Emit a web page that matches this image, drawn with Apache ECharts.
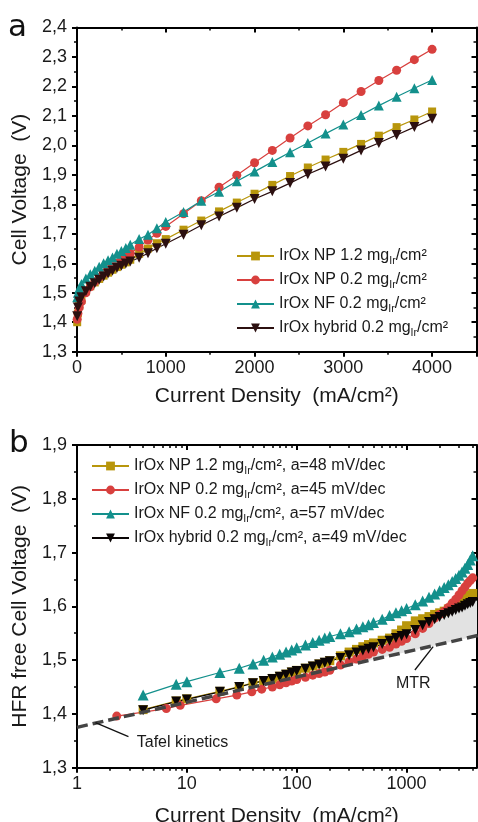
<!DOCTYPE html>
<html>
<head>
<meta charset="utf-8">
<script src="https://cdn.jsdelivr.net/npm/echarts@6/dist/echarts.min.js"></script>
<style>
  html, body { margin: 0; padding: 0; background: #ffffff; }
  #chart { width: 478px; height: 822px; }
</style>
</head>
<body>
<div id="chart"></div>
<script>
// ---- samples ----
const sampleNames = ['IrOx NP 1.2', 'IrOx NP 0.2', 'IrOx NF 0.2', 'IrOx hybrid 0.2'];
const tafelSlopes = [48, 45, 57, 49];

// ---- panel a: polarization curves (mA/cm², V) ----
const polCurrent = [2, 10, 25, 50, 100, 150, 200, 250, 300, 350, 400, 450, 500, 550, 600,
  700, 800, 900, 1000, 1200, 1400, 1600, 1800, 2000, 2200, 2400, 2600, 2800, 3000,
  3200, 3400, 3600, 3800, 4000];
const polNP12 = [1.400, 1.430, 1.455, 1.475, 1.505, 1.522, 1.535, 1.547, 1.558, 1.568, 1.578,
  1.587, 1.595, 1.603, 1.612, 1.632, 1.650, 1.668, 1.682, 1.714, 1.745, 1.776, 1.806, 1.836,
  1.866, 1.896, 1.925, 1.952, 1.978, 2.005, 2.033, 2.062, 2.088, 2.115];
const polNP02 = [1.410, 1.430, 1.450, 1.470, 1.500, 1.520, 1.537, 1.553, 1.566, 1.578, 1.589,
  1.600, 1.611, 1.622, 1.633, 1.655, 1.679, 1.702, 1.725, 1.768, 1.812, 1.858, 1.899, 1.941,
  1.983, 2.025, 2.066, 2.104, 2.145, 2.183, 2.220, 2.255, 2.291, 2.326];
const polNF02 = [1.485, 1.500, 1.515, 1.530, 1.548, 1.563, 1.575, 1.588, 1.600, 1.610, 1.620,
  1.632, 1.642, 1.652, 1.663, 1.682, 1.697, 1.719, 1.740, 1.774, 1.812, 1.843, 1.878, 1.911,
  1.944, 1.977, 2.008, 2.040, 2.071, 2.103, 2.135, 2.165, 2.194, 2.222];
const polHybrid = [1.420, 1.450, 1.470, 1.485, 1.505, 1.520, 1.532, 1.544, 1.555, 1.565, 1.575,
  1.584, 1.592, 1.599, 1.606, 1.619, 1.634, 1.651, 1.666, 1.697, 1.729, 1.759, 1.788, 1.818,
  1.844, 1.872, 1.902, 1.928, 1.955, 1.983, 2.008, 2.035, 2.062, 2.090];

// ---- panel b: HFR-free cell voltage (mA/cm², V) ----
const hfrCurrent = [4, 8, 10, 20, 30, 40, 50, 60, 70, 80, 90, 100, 120, 140, 160, 180, 200,
  250, 300, 350, 400, 450, 500, 600, 700, 800, 900, 1000, 1200, 1400, 1600, 1800, 2000,
  2200, 2400, 2600, 2800, 3000, 3200, 3400, 3600, 3800, 4000];
const hfrCurrentNP02 = [2.3, 6.5, 8.7, 18.5, 28.5, 39, 48, 60, 70, 80, 90, 100, 120, 140, 160,
  180, 200, 250, 300, 350, 400, 450, 500, 600, 700, 800, 900, 1000, 1200, 1400, 1600, 1800,
  2000, 2200, 2400, 2600, 2800, 3000, 3200, 3400, 3600, 3800, 4000];
const hfrNP12 = [1.408, 1.424, 1.428, 1.442, 1.451, 1.458, 1.462, 1.466, 1.470, 1.474, 1.478,
  1.481, 1.485, 1.489, 1.493, 1.496, 1.499, 1.508, 1.515, 1.520, 1.525, 1.529, 1.532, 1.537,
  1.541, 1.549, 1.556, 1.564, 1.573, 1.577, 1.581, 1.585, 1.588, 1.591, 1.595, 1.599, 1.603,
  1.607, 1.611, 1.615, 1.618, 1.621, 1.624];
const hfrNP02 = [1.396, 1.410, 1.416, 1.428, 1.435, 1.441, 1.446, 1.450, 1.454, 1.458, 1.461,
  1.464, 1.468, 1.472, 1.475, 1.478, 1.481, 1.491, 1.497, 1.502, 1.507, 1.511, 1.515, 1.520,
  1.524, 1.530, 1.535, 1.540, 1.549, 1.559, 1.568, 1.578, 1.585, 1.591, 1.598, 1.606, 1.613,
  1.621, 1.629, 1.636, 1.643, 1.648, 1.653];
const hfrNF02 = [1.435, 1.455, 1.460, 1.477, 1.485, 1.493, 1.500, 1.506, 1.511, 1.515, 1.519,
  1.523, 1.528, 1.533, 1.537, 1.541, 1.544, 1.549, 1.553, 1.558, 1.562, 1.566, 1.570, 1.576,
  1.583, 1.588, 1.592, 1.596, 1.603, 1.610, 1.617, 1.623, 1.629, 1.635, 1.640, 1.646, 1.652,
  1.658, 1.664, 1.671, 1.678, 1.686, 1.694];
const hfrHybrid = [1.407, 1.423, 1.427, 1.441, 1.450, 1.457, 1.461, 1.465, 1.469, 1.473, 1.477,
  1.480, 1.484, 1.488, 1.492, 1.495, 1.498, 1.504, 1.509, 1.514, 1.518, 1.521, 1.524, 1.530,
  1.536, 1.541, 1.545, 1.548, 1.556, 1.565, 1.571, 1.576, 1.580, 1.584, 1.587, 1.590, 1.593,
  1.596, 1.598, 1.601, 1.604, 1.606, 1.608];

// Tafel kinetics extrapolation (end points of the dashed line)
const tafelCurrent = [1, 4500];
const tafelVoltage = [1.375, 1.546];

// mass-transport region: hybrid curve above this current, closed along the Tafel line
const mtrStartCurrent = 250;
const mtrEdgeCurrent = [4500, 4500, 250];
const mtrEdgeVoltage = [1.612, 1.546, 1.487];

// annotation anchors in data units (panel b)
const tafelNote = { text: 'Tafel kinetics', label: [3.5, 1.3465], from: [2.94, 1.3577], to: [1.47, 1.3837] };
const mtrNote = { text: 'MTR', label: [1150, 1.457], from: [1190, 1.4817], to: [1746, 1.525] };

// axis tick values
const polTicks = [0, 1000, 2000, 3000, 4000];
const logMajorTicks = [1, 10, 100, 1000];
const logMinorTicks = [2, 3, 4, 5, 6, 7, 8, 9, 20, 30, 40, 50, 60, 70, 80, 90,
  200, 300, 400, 500, 600, 700, 800, 900, 2000, 3000, 4000];

// ---- styling ----
const FONT = 'Liberation Sans, Arial, sans-serif';
const colors = ['#b8960c', '#d8403e', '#13908c', '#2c1010'];
const colorsB = ['#b8960c', '#d8403e', '#13908c', '#0a0505'];
const symbols = ['rect', 'circle', 'triangle', 'triangle'];
const rotations = [0, 0, 0, 180];
const sizesA = [8, 9, 10, 10];
const sizesB = [9, 9, 11, 10];

const zip = (xs, ys) => xs.map((x, i) => [x, ys[i]]);
const fmtComma = v => (Math.round(v * 10) / 10).toFixed(1).replace('.', ',');

const topNames = sampleNames.map(s => s + ' mgIr/cm²');
const bottomNames = sampleNames.map((s, i) => s + ' mgIr/cm², a=' + tafelSlopes[i] + ' mV/dec');
const legendFormatter = name => name.replace('mgIr/', 'mg{s|Ir}/');

const axisLine = { show: true, onZero: false, lineStyle: { color: '#000', width: 2 } };
const tickMajor = (inside) => ({ show: true, inside: inside, length: 5, lineStyle: { color: '#000', width: 2 } });
const tickMinor = { show: true, length: 3, lineStyle: { color: '#000', width: 1.5 } };
const tickLabel = { fontFamily: FONT, fontSize: 18, color: '#1a1a1a' };
const nameStyle = { fontFamily: FONT, fontSize: 21, color: '#1a1a1a' };

const GRID_A = 0, GRID_B = 1;

const xAxes = [
  // panel a, bottom
  { gridIndex: GRID_A, type: 'value', position: 'bottom', min: 0, max: 4500, interval: 1000,
    axisLine: axisLine, axisTick: tickMajor(false),
    minorTick: Object.assign({ splitNumber: 2 }, tickMinor), splitLine: { show: false },
    axisLabel: Object.assign({ margin: 7, formatter: v => (polTicks.indexOf(v) >= 0 ? String(v) : '') }, tickLabel),
    name: 'Current Density  (mA/cm²)', nameLocation: 'middle', nameGap: 34, nameTextStyle: nameStyle },
  // panel a, top frame
  { gridIndex: GRID_A, type: 'value', position: 'top', min: 0, max: 4500, interval: 1000,
    axisLine: axisLine, axisTick: tickMajor(true),
    minorTick: Object.assign({ splitNumber: 2 }, tickMinor), splitLine: { show: false },
    axisLabel: { show: false } },
  // panel b, bottom (decades)
  { gridIndex: GRID_B, type: 'log', logBase: 10, position: 'bottom', min: 1, max: 4330,
    axisLine: axisLine, axisTick: Object.assign(tickMajor(false), { customValues: logMajorTicks }),
    splitLine: { show: false },
    axisLabel: Object.assign({ margin: 7, customValues: logMajorTicks, formatter: v => String(Math.round(v)) }, tickLabel),
    name: 'Current Density  (mA/cm²)', nameLocation: 'middle', nameGap: 38, nameTextStyle: nameStyle },
  // panel b, bottom (sub-decade ticks)
  { gridIndex: GRID_B, type: 'log', logBase: 10, position: 'bottom', min: 1, max: 4330,
    axisLine: { show: false }, axisTick: Object.assign({ customValues: logMinorTicks, inside: false }, tickMinor),
    splitLine: { show: false }, axisLabel: { show: false } },
  // panel b, top frame (decades)
  { gridIndex: GRID_B, type: 'log', logBase: 10, position: 'top', min: 1, max: 4330,
    axisLine: axisLine, axisTick: Object.assign(tickMajor(true), { customValues: logMajorTicks }),
    splitLine: { show: false }, axisLabel: { show: false } },
  // panel b, top frame (sub-decade ticks)
  { gridIndex: GRID_B, type: 'log', logBase: 10, position: 'top', min: 1, max: 4330,
    axisLine: { show: false }, axisTick: Object.assign({ customValues: logMinorTicks, inside: true }, tickMinor),
    splitLine: { show: false }, axisLabel: { show: false } }
];

const yAxes = [
  { gridIndex: GRID_A, type: 'value', position: 'left', min: 1.3, max: 2.4, interval: 0.1,
    axisLine: axisLine, axisTick: tickMajor(false),
    minorTick: Object.assign({ splitNumber: 2 }, tickMinor), splitLine: { show: false },
    axisLabel: Object.assign({ margin: 10, formatter: fmtComma }, tickLabel),
    name: 'Cell Voltage  (V)', nameLocation: 'middle', nameGap: 43, nameTextStyle: nameStyle },
  { gridIndex: GRID_A, type: 'value', position: 'right', min: 1.3, max: 2.4, interval: 0.1,
    axisLine: axisLine, axisTick: tickMajor(true),
    minorTick: Object.assign({ splitNumber: 2 }, tickMinor), splitLine: { show: false },
    axisLabel: { show: false } },
  { gridIndex: GRID_B, type: 'value', position: 'left', min: 1.3, max: 1.9, interval: 0.1,
    axisLine: axisLine, axisTick: tickMajor(false),
    minorTick: Object.assign({ splitNumber: 2 }, tickMinor), splitLine: { show: false },
    axisLabel: Object.assign({ margin: 10, formatter: fmtComma }, tickLabel),
    name: 'HFR free Cell Voltage  (V)', nameLocation: 'middle', nameGap: 43, nameTextStyle: nameStyle },
  { gridIndex: GRID_B, type: 'value', position: 'right', min: 1.3, max: 1.9, interval: 0.1,
    axisLine: axisLine, axisTick: tickMajor(true),
    minorTick: Object.assign({ splitNumber: 2 }, tickMinor), splitLine: { show: false },
    axisLabel: { show: false } }
];

function dataSeries(name, data, i, xIdx, yIdx, palette, sizes) {
  return {
    name: name, type: 'line', xAxisIndex: xIdx, yAxisIndex: yIdx, data: data,
    symbol: symbols[i], symbolRotate: rotations[i], symbolSize: sizes[i], showSymbol: true,
    lineStyle: { color: palette[i], width: 1.2 },
    itemStyle: { color: palette[i], borderWidth: 0 },
    emphasis: { disabled: true }, z: 3
  };
}

const polData = [polNP12, polNP02, polNF02, polHybrid];
const hfrData = [
  zip(hfrCurrent, hfrNP12), zip(hfrCurrentNP02, hfrNP02),
  zip(hfrCurrent, hfrNF02), zip(hfrCurrent, hfrHybrid)
];

const series = [];
// panel b shaded mass-transport region, drawn beneath the curves
series.push({
  type: 'custom', name: 'MTR', xAxisIndex: 2, yAxisIndex: 2, clip: true, silent: true, z: 1,
  data: [[1000, 1.5]],
  renderItem: (params, api) => {
    const pts = [];
    hfrCurrent.forEach((c, i) => { if (c >= mtrStartCurrent) pts.push(api.coord([c, hfrHybrid[i]])); });
    mtrEdgeCurrent.forEach((c, i) => pts.push(api.coord([c, mtrEdgeVoltage[i]])));
    return { type: 'polygon', shape: { points: pts }, style: { fill: '#e2e2e2' } };
  }
});
polData.forEach((ys, i) => series.push(dataSeries(topNames[i], zip(polCurrent, ys), i, 0, 0, colors, sizesA)));
hfrData.forEach((d, i) => series.push(dataSeries(bottomNames[i], d, i, 2, 2, colorsB, sizesB)));
series.push({
  type: 'line', name: 'Tafel', xAxisIndex: 2, yAxisIndex: 2, data: zip(tafelCurrent, tafelVoltage),
  symbol: 'none', silent: true, z: 4,
  lineStyle: { color: '#444444', width: 3.5, type: [11, 5] }, emphasis: { disabled: true }
});
const tafelSeriesIndex = series.length - 1;

const legendText = {
  fontFamily: FONT, fontSize: 16, color: '#1a1a1a', lineHeight: 22,
  rich: { s: { fontFamily: FONT, fontSize: 10.5, lineHeight: 12, verticalAlign: 'bottom', color: '#1a1a1a' } }
};

const chart = echarts.init(document.getElementById('chart'), null, { renderer: 'canvas' });
chart.setOption({
  animation: false,
  backgroundColor: '#ffffff',
  grid: [
    { left: 77, right: 1.5, top: 27.5, height: 324.2, outerBoundsMode: 'none', containLabel: false },
    { left: 77, right: 1.5, top: 445, height: 322.7, outerBoundsMode: 'none', containLabel: false }
  ],
  xAxis: xAxes,
  yAxis: yAxes,
  legend: [
    { data: topNames, orient: 'vertical', left: 231, top: 240, itemWidth: 37, itemHeight: 11,
      itemGap: 2, selectedMode: false, formatter: legendFormatter, textStyle: legendText },
    { data: bottomNames, orient: 'vertical', left: 86, top: 450, itemWidth: 37, itemHeight: 11,
      itemGap: 2, selectedMode: false, formatter: legendFormatter, textStyle: legendText }
  ],
  series: series
});

// annotations placed through the panel b coordinate system
const toPx = pt => chart.convertToPixel({ seriesIndex: tafelSeriesIndex }, pt);
const noteFont = { fontFamily: FONT, fontSize: 16, fill: '#1a1a1a' };
const tFrom = toPx(tafelNote.from), tTo = toPx(tafelNote.to), tLab = toPx(tafelNote.label);
const mFrom = toPx(mtrNote.from), mTo = toPx(mtrNote.to), mLab = toPx(mtrNote.label);
chart.setOption({
  graphic: [
    { type: 'line', z: 10, shape: { x1: tFrom[0], y1: tFrom[1], x2: tTo[0], y2: tTo[1] }, style: { stroke: '#111', lineWidth: 1.3 } },
    { type: 'text', z: 10, x: tLab[0], y: tLab[1], style: Object.assign({ text: tafelNote.text, align: 'left', verticalAlign: 'middle' }, noteFont) },
    { type: 'line', z: 10, shape: { x1: mFrom[0], y1: mFrom[1], x2: mTo[0], y2: mTo[1] }, style: { stroke: '#111', lineWidth: 1.3 } },
    { type: 'text', z: 10, x: mLab[0], y: mLab[1], style: Object.assign({ text: mtrNote.text, align: 'center', verticalAlign: 'middle' }, noteFont) },
    { type: 'text', z: 10, x: 8, y: 28, style: { text: 'a', fontFamily: 'DejaVu Sans, sans-serif', fontSize: 31, fill: '#111', align: 'left', verticalAlign: 'middle' } },
    { type: 'text', z: 10, x: 9, y: 444, style: { text: 'b', fontFamily: 'DejaVu Sans, sans-serif', fontSize: 31, fill: '#111', align: 'left', verticalAlign: 'middle' } }
  ]
});
</script>
</body>
</html>
